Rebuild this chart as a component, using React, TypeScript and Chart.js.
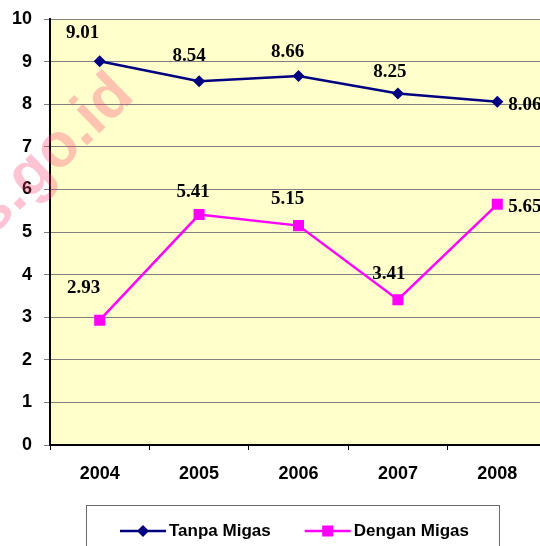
import React, { useEffect, useRef } from 'react';
import { Chart, registerables } from 'chart.js';

Chart.register(...registerables);

const years = ['2004', '2005', '2006', '2007', '2008'];
const tanpaMigas = [9.01, 8.54, 8.66, 8.25, 8.06];
const denganMigas = [2.93, 5.41, 5.15, 3.41, 5.65];
const seriesNames = ['Tanpa Migas', 'Dengan Migas'];
const yMin = 0;
const yMax = 10;
const yStep = 1;
const watermarkText = 'www.bps.go.id';

// label placement relative to each point (dx, dy to text baseline, alignment)
const tanpaLabelPos = [
  { dx: -17, dy: -23, align: 'center' },
  { dx: -10, dy: -20, align: 'center' },
  { dx: -11, dy: -19, align: 'center' },
  { dx: -8, dy: -17, align: 'center' },
  { dx: 11, dy: 8, align: 'left' },
];
const denganLabelPos = [
  { dx: -16, dy: -27, align: 'center' },
  { dx: -6, dy: -18, align: 'center' },
  { dx: -11, dy: -22, align: 'center' },
  { dx: -9, dy: -21, align: 'center' },
  { dx: 11, dy: 8, align: 'left' },
];

const NAVY = '#000080';
const MAGENTA = '#FF00FF';

const plotBackground = {
  id: 'plotBackground',
  beforeDraw(chart: any) {
    const { ctx, chartArea: a } = chart;
    ctx.save();
    ctx.fillStyle = '#FFFFCC';
    ctx.fillRect(a.left, a.top, a.right - a.left, a.bottom - a.top);
    ctx.restore();
  },
};

const valueLabels = {
  id: 'valueLabels',
  afterDatasetsDraw(chart: any) {
    const { ctx } = chart;
    const posSets = [tanpaLabelPos, denganLabelPos];
    ctx.save();
    ctx.font = 'bold 19px "Liberation Serif", "Times New Roman", serif';
    ctx.fillStyle = '#000';
    ctx.textBaseline = 'alphabetic';
    chart.data.datasets.forEach((ds: any, di: number) => {
      const meta = chart.getDatasetMeta(di);
      meta.data.forEach((pt: any, i: number) => {
        const p = posSets[di][i];
        ctx.textAlign = p.align;
        ctx.fillText(ds.data[i].toFixed(2), pt.x + p.dx, pt.y + p.dy);
      });
    });
    ctx.restore();
  },
};

const customLegend = {
  id: 'customLegend',
  afterDraw(chart: any) {
    const { ctx } = chart;
    const boxLeft = 86.5;
    const boxTop = 505.5;
    const boxW = 413;
    ctx.save();
    ctx.fillStyle = '#FFFFFF';
    ctx.fillRect(boxLeft, boxTop, boxW, 60);
    ctx.strokeStyle = '#6b6b6b';
    ctx.lineWidth = 1;
    ctx.strokeRect(boxLeft, boxTop, boxW, 60);
    ctx.font = 'bold 17px "Liberation Sans", Arial, sans-serif';
    ctx.textBaseline = 'middle';
    ctx.textAlign = 'left';
    const y = 531;
    let x = 120;
    chart.data.datasets.forEach((ds: any) => {
      const lineLen = 46;
      ctx.strokeStyle = ds.borderColor;
      ctx.lineWidth = 2.5;
      ctx.beginPath();
      ctx.moveTo(x, y);
      ctx.lineTo(x + lineLen, y);
      ctx.stroke();
      ctx.fillStyle = ds.borderColor;
      ctx.beginPath();
      const cx = x + lineLen / 2;
      if (ds.pointStyle === 'rectRot') {
        const r = 6;
        ctx.moveTo(cx - r, y);
        ctx.lineTo(cx, y - r);
        ctx.lineTo(cx + r, y);
        ctx.lineTo(cx, y + r);
        ctx.closePath();
      } else {
        ctx.rect(cx - 5.5, y - 5.5, 11, 11);
      }
      ctx.fill();
      ctx.fillStyle = '#000';
      const tx = x + lineLen + 3;
      ctx.fillText(ds.label, tx, y);
      x = tx + ctx.measureText(ds.label).width + 34;
    });
    ctx.restore();
  },
};

const watermark = {
  id: 'watermark',
  afterDraw(chart: any) {
    const { ctx } = chart;
    ctx.save();
    ctx.translate(136, 98);
    ctx.rotate((-44 * Math.PI) / 180);
    ctx.font = 'bold 62px "Liberation Sans", Arial, sans-serif';
    ctx.textAlign = 'right';
    ctx.textBaseline = 'alphabetic';
    ctx.fillStyle = 'rgba(255, 60, 110, 0.3)';
    ctx.fillText(watermarkText, 0, 0);
    ctx.restore();
  },
};

export default function App() {
  const canvasRef = useRef<HTMLCanvasElement | null>(null);

  useEffect(() => {
    if (!canvasRef.current) return;
    const chart = new Chart(canvasRef.current, {
      type: 'line',
      data: {
        labels: years,
        datasets: [
          {
            label: seriesNames[0],
            data: tanpaMigas,
            borderColor: NAVY,
            backgroundColor: NAVY,
            borderWidth: 2.5,
            pointStyle: 'rectRot',
            pointRadius: 6,
            pointBorderWidth: 0,
            pointBackgroundColor: NAVY,
            tension: 0,
          },
          {
            label: seriesNames[1],
            data: denganMigas,
            borderColor: MAGENTA,
            backgroundColor: MAGENTA,
            borderWidth: 2.5,
            pointStyle: 'rect',
            pointRadius: 7.8,
            pointBorderWidth: 0,
            pointBackgroundColor: MAGENTA,
            tension: 0,
          },
        ],
      },
      options: {
        responsive: false,
        devicePixelRatio: 1,
        animation: false,
        layout: { padding: { top: 19, right: 13, left: 0, bottom: 0 } },
        plugins: {
          legend: { display: false },
          tooltip: { enabled: false },
        },
        scales: {
          x: {
            type: 'category',
            offset: true,
            grid: {
              display: true,
              drawOnChartArea: false,
              offset: true,
              tickLength: 5,
              tickColor: '#000',
              lineWidth: 1,
            },
            border: { color: '#000', width: 2 },
            ticks: {
              color: '#000',
              padding: 13,
              font: { family: '"Liberation Sans", Arial, sans-serif', size: 18, weight: 'bold' },
              maxRotation: 0,
            },
            afterFit(scale: any) {
              scale.height = 101;
            },
          },
          y: {
            min: yMin,
            max: yMax,
            ticks: {
              stepSize: yStep,
              color: '#000',
              padding: 12,
              font: { family: '"Liberation Sans", Arial, sans-serif', size: 18, weight: 'bold' },
            },
            grid: {
              color: '#808080',
              lineWidth: 1,
              tickLength: 6,
              tickColor: '#808080',
            },
            border: { color: '#000', width: 2 },
            afterFit(scale: any) {
              scale.width = 50;
              scale.paddingTop = 0;
              scale.paddingBottom = 0;
            },
          },
        },
      },
      plugins: [plotBackground, valueLabels, customLegend, watermark],
    });
    return () => chart.destroy();
  }, []);

  return (
    <div
      style={{
        position: 'fixed',
        left: 0,
        top: 0,
        width: 540,
        height: 546,
        overflow: 'hidden',
        background: '#fff',
      }}
    >
      <canvas ref={canvasRef} width={560} height={546} style={{ display: 'block' }} />
    </div>
  );
}
